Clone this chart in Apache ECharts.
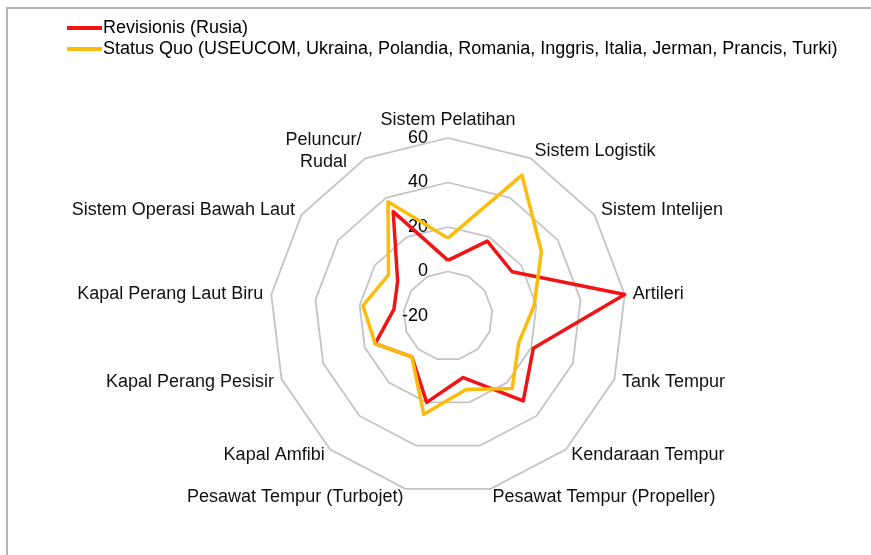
<!DOCTYPE html>
<html>
<head>
<meta charset="utf-8">
<script src="https://cdn.jsdelivr.net/npm/echarts@6/dist/echarts.min.js"></script>
<style>
  html, body { margin: 0; padding: 0; background: #fff; }
  #chart { width: 871px; height: 555px; }
</style>
</head>
<body>
<div id="chart"></div>
<script>
// categories, clockwise from top
const categories = [
  'Sistem Pelatihan', 'Sistem Logistik', 'Sistem Intelijen', 'Artileri',
  'Tank Tempur', 'Kendaraan Tempur', 'Pesawat Tempur (Propeller)',
  'Pesawat Tempur (Turbojet)', 'Kapal Amfibi', 'Kapal Perang Pesisir',
  'Kapal Perang Laut Biru', 'Sistem Operasi Bawah Laut', 'Peluncur/\nRudal'
]
const seriesNames = [
  'Revisionis (Rusia)',
  'Status Quo (USEUCOM, Ukraina, Polandia, Romania, Inggris, Italia, Jerman, Prancis, Turki)'
]
const revisionis = [5, 18, 15, 60, 21, 31, 8.5, 20, 4.5, 15, 4.5, 7.5, 33]
const statusQuo = [15, 51.5, 31, 19, 14, 23.5, 14, 25.5, 4.5, 15, 18.5, 12.5, 38]
const axisMin = -20
const axisMax = 60

const COLORS = ['#f01414', '#fcbc0a']
const FONT = 'Liberation Sans, Arial, sans-serif'

// echarts radar runs counter-clockwise, so keep first axis and reverse the rest
const order = [0].concat(categories.map((_, i) => i).slice(1).reverse())
const reorder = arr => order.map(i => arr[i])

const chart = echarts.init(document.getElementById('chart'))

const indicator = reorder(categories).map((name, i) => {
  const ind = { name, min: axisMin, max: axisMax }
  if (i === 0) ind.axisLabel = { show: true }
  return ind
})

const option = {
  animation: false,
  textStyle: { fontFamily: FONT },
  graphic: [{
    type: 'polyline',
    shape: { points: [[7, 555], [7, 8], [871, 8]] },
    style: { stroke: '#b4b4b4', lineWidth: 2, fill: null }
  }],
  legend: {
    orient: 'vertical',
    left: 62,
    top: 14,
    itemWidth: 35,
    itemHeight: 4,
    itemGap: 3,
    icon: 'rect',
    data: seriesNames,
    textStyle: { fontSize: 18, color: '#000', fontFamily: FONT, padding: [0, 0, 0, -4] }
  },
  radar: {
    center: [448, 316],
    radius: 178,
    shape: 'polygon',
    splitNumber: 4,
    nameGap: 8,
    indicator,
    axisName: {
      color: '#111',
      fontSize: 18,
      fontFamily: FONT,
      formatter: (name) => name.indexOf('\n') >= 0
        ? name.split('\n').map(s => '{c|' + s + '}').join('\n')
        : name,
      rich: { c: { align: 'center', fontSize: 18, lineHeight: 22, color: '#111', fontFamily: FONT } }
    },
    axisLine: { show: false },
    axisTick: { show: false },
    axisLabel: { show: false, fontSize: 18, color: '#000', margin: 20 },
    splitLine: { lineStyle: { color: '#c4c4c4', width: 1.8 } },
    splitArea: { show: false }
  },
  series: [{
    type: 'radar',
    symbol: 'none',
    data: [
      { name: seriesNames[0], value: reorder(revisionis),
        lineStyle: { color: COLORS[0], width: 3.5 }, itemStyle: { color: COLORS[0] } },
      { name: seriesNames[1], value: reorder(statusQuo),
        lineStyle: { color: COLORS[1], width: 3.5 }, itemStyle: { color: COLORS[1] } }
    ]
  }]
}

chart.setOption(option)
</script>
</body>
</html>
